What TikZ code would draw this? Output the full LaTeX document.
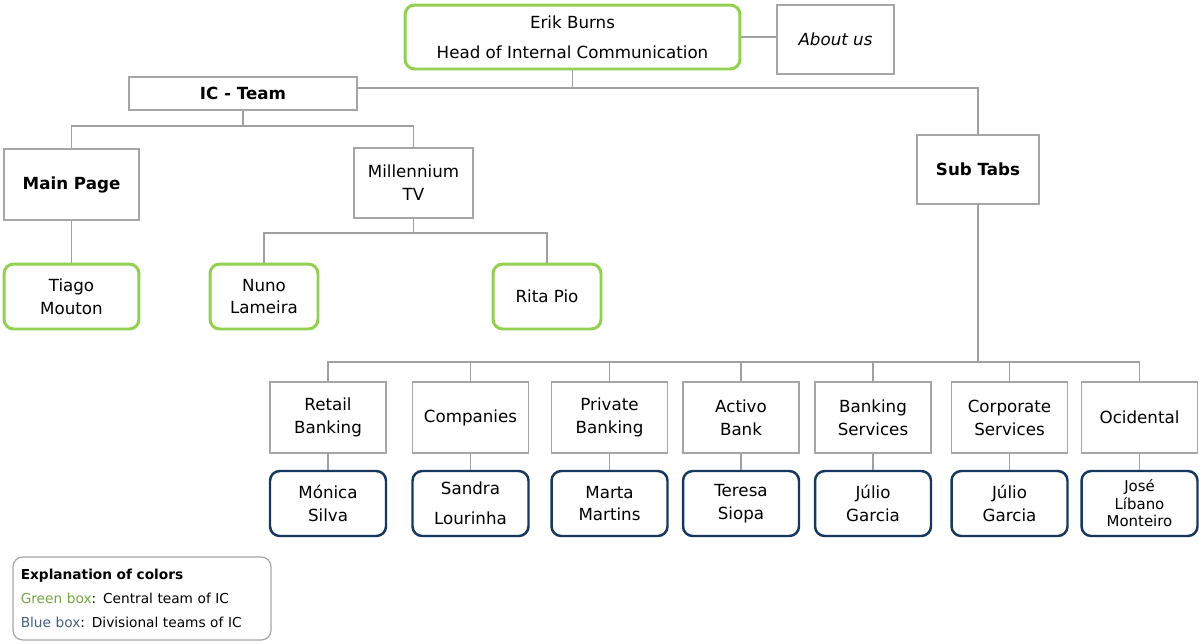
\documentclass[tikz,border=0pt]{standalone}
\usepackage{fontspec}
\setmainfont{DejaVu Sans}
\usetikzlibrary{positioning}

\definecolor{icgreen}{RGB}{146,208,80}
\definecolor{icblue}{RGB}{23,55,94}
\definecolor{boxgray}{RGB}{166,166,166}
\definecolor{linegray}{RGB}{160,160,160}

\begin{document}
\begin{tikzpicture}[x=0.02cm,y=-0.02cm,font=\fontsize{9.5}{13}\selectfont]
  \tikzstyle{TabBox}=[draw=boxgray,line width=0.7pt,fill=white,align=center,inner sep=2pt]
  \tikzstyle{GreenBox}=[draw=icgreen,line width=1.7pt,rounded corners=5.5pt,fill=white,align=center,inner sep=2pt]
  \tikzstyle{BlueBox}=[draw=icblue,line width=1.4pt,rounded corners=5.5pt,fill=white,align=center,inner sep=2pt]
  \tikzstyle{Link}=[draw=linegray,line width=0.7pt]
  \useasboundingbox (0,0) rectangle (1199,643);

  % head and top level
  \node[GreenBox,minimum width=6.7cm,minimum height=1.28cm] (erik) at (572.5,37) {Erik Burns\\[4pt]Head of Internal Communication};
  \node[TabBox,minimum width=2.34cm,minimum height=1.38cm] (about) at (835.5,39.5) {\itshape About us};
  \node[TabBox,minimum width=4.56cm,minimum height=0.66cm] (icteam) at (243,93.5) {\bfseries IC - Team};
  \node[TabBox,minimum width=2.44cm,minimum height=1.38cm] (subtabs) at (978,169.5) {\bfseries Sub Tabs};

  % IC team
  \node[TabBox,minimum width=2.7cm,minimum height=1.42cm] (mainpage) at (71.5,184.5) {\bfseries Main Page};
  \node[TabBox,minimum width=2.38cm,minimum height=1.4cm] (mtv) at (413.5,183) {Millennium\\TV};
  \node[GreenBox,minimum width=2.7cm,minimum height=1.3cm] (tiago) at (71.5,296.5) {Tiago\\Mouton};
  \node[GreenBox,minimum width=2.16cm,minimum height=1.3cm] (nuno) at (264,296.5) {Nuno\\Lameira};
  \node[GreenBox,minimum width=2.16cm,minimum height=1.3cm] (rita) at (547,296.5) {Rita Pio};

  % sub tabs
  \node[TabBox,minimum width=2.32cm,minimum height=1.42cm] (retail) at (328,417.5) {Retail\\Banking};
  \node[TabBox,minimum width=2.32cm,minimum height=1.42cm] (companies) at (470.5,417.5) {Companies};
  \node[TabBox,minimum width=2.32cm,minimum height=1.42cm] (private) at (609.5,417.5) {Private\\Banking};
  \node[TabBox,minimum width=2.32cm,minimum height=1.42cm] (activo) at (741,417.5) {Activo\\Bank};
  \node[TabBox,minimum width=2.32cm,minimum height=1.42cm] (banking) at (873,417.5) {Banking\\Services};
  \node[TabBox,minimum width=2.32cm,minimum height=1.42cm] (corporate) at (1009.5,417.5) {Corporate\\Services};
  \node[TabBox,minimum width=2.32cm,minimum height=1.42cm] (ocidental) at (1139.5,417.5) {Ocidental};

  \node[BlueBox,minimum width=2.32cm,minimum height=1.3cm] (monica) at (328,503.5) {Mónica\\Silva};
  \node[BlueBox,minimum width=2.32cm,minimum height=1.3cm] (sandra) at (470.5,503.5) {Sandra\\[4pt]Lourinha};
  \node[BlueBox,minimum width=2.32cm,minimum height=1.3cm] (marta) at (609.5,503.5) {Marta\\Martins};
  \node[BlueBox,minimum width=2.32cm,minimum height=1.3cm] (teresa) at (741,503.5) {Teresa\\Siopa};
  \node[BlueBox,minimum width=2.32cm,minimum height=1.3cm] (julio) at (873,503.5) {Júlio\\Garcia};
  \node[BlueBox,minimum width=2.32cm,minimum height=1.3cm] (juliob) at (1009.5,503.5) {Júlio\\Garcia};
  \node[BlueBox,minimum width=2.32cm,minimum height=1.3cm,font=\fontsize{8.5}{10}\selectfont] (jose) at (1139.5,503.5) {José\\Líbano\\Monteiro};

  % legend
  \node[draw=boxgray,line width=0.7pt,rounded corners=5.5pt,minimum width=5.16cm,minimum height=1.66cm,
        align=left,text width=4.85cm,font=\fontsize{7.8}{13.6}\selectfont] (legend) at (142,598.5)
    {{\bfseries Explanation of colors}\\
     \textcolor{icgreen!80!black}{Green box}: Central team of IC\\
     \textcolor{icblue!80}{Blue box}: Divisional teams of IC};

  % connectors
  \coordinate (jtop) at (572.5,88);
  \coordinate (jic) at (243,126);
  \coordinate (jmtv) at (413.5,233);
  \coordinate (jsub) at (978,362);

  \draw[Link] (erik.east) -- (erik.east -| about.west);
  \draw[Link] (erik.south) -- (jtop);
  \draw[Link] (icteam.east |- jtop) -| (subtabs.north);
  \draw[Link] (icteam.south) -- (jic);
  \draw[Link] (mainpage.north) |- (jic) -| (mtv.north);
  \draw[Link] (mainpage.south) -- (tiago.north);
  \draw[Link] (mtv.south) -- (jmtv);
  \draw[Link] (nuno.north) |- (jmtv) -| (rita.north);
  \draw[Link] (subtabs.south) -- (jsub);
  \draw[Link] (retail.north) |- (jsub) -| (ocidental.north);
  \draw[Link] (companies.north) -- (companies.north |- jsub);
  \draw[Link] (private.north) -- (private.north |- jsub);
  \draw[Link] (activo.north) -- (activo.north |- jsub);
  \draw[Link] (banking.north) -- (banking.north |- jsub);
  \draw[Link] (corporate.north) -- (corporate.north |- jsub);
  \draw[Link] (retail.south) -- (monica.north);
  \draw[Link] (companies.south) -- (sandra.north);
  \draw[Link] (private.south) -- (marta.north);
  \draw[Link] (activo.south) -- (teresa.north);
  \draw[Link] (banking.south) -- (julio.north);
  \draw[Link] (corporate.south) -- (juliob.north);
  \draw[Link] (ocidental.south) -- (jose.north);
\end{tikzpicture}
\end{document}
